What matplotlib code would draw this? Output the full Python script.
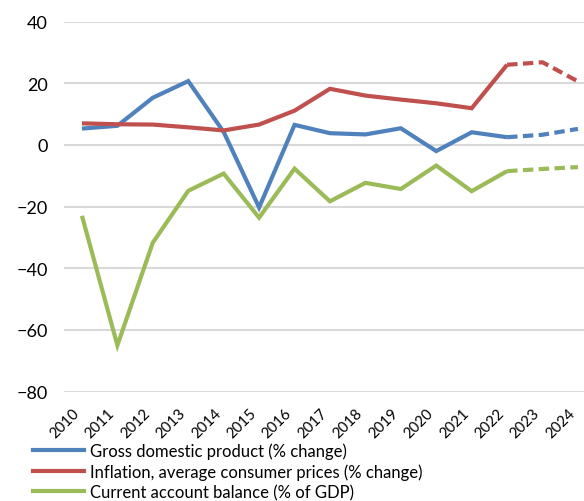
import matplotlib
matplotlib.use("Agg")
import matplotlib.pyplot as plt
from matplotlib.lines import Line2D

years = ["2010", "2011", "2012", "2013", "2014", "2015", "2016", "2017",
         "2018", "2019", "2020", "2021", "2022", "2023", "2024"]
gdp = [5.3, 6.2, 15.3, 20.7, 4.2, -20.3, 6.5, 3.8, 3.4, 5.4, -2.0, 4.1, 2.5, 3.3, 5.2]
inflation = [7.0, 6.7, 6.6, 5.7, 4.7, 6.6, 11.1, 18.2, 16.0, 14.7, 13.5, 11.9, 26.0, 26.8, 20.6]
current_account = [-23.0, -65.0, -31.7, -14.9, -9.3, -23.6, -7.7, -18.3, -12.3, -14.3,
                   -6.7, -15.0, -8.5, -7.8, -7.2]
labels = ["Gross domestic product (% change)",
          "Inflation, average consumer prices (% change)",
          "Current account balance (% of GDP)"]
colors = ["#4F81BD", "#C0504D", "#9BBB59"]
forecast_start = 12  # index of 2022

plt.rcParams['font.family'] = ['Lato', 'DejaVu Sans']

fig = plt.figure(figsize=(5.84, 5.02), dpi=100)
ax = fig.add_axes([0.11, 0.218, 0.91, 0.737])

x = list(range(len(years)))
for series, c in zip([gdp, inflation, current_account], colors):
    ax.plot(x[:forecast_start + 1], series[:forecast_start + 1], color=c, lw=3,
            solid_capstyle='butt', solid_joinstyle='miter')
    ax.plot(x[forecast_start:], series[forecast_start:], color=c, lw=3,
            linestyle=(0, (2.5, 1.3)), dash_capstyle='butt')

ax.set_xlim(-0.5, len(years) - 0.5)
ax.set_ylim(-80, 40)
ax.set_yticks(range(-80, 41, 20))
ax.set_xticks(x)
ax.set_xticklabels(years, rotation=45, ha='right')
ax.yaxis.grid(True, color='#D9D9D9', lw=1.5)
ax.set_axisbelow(True)
for s in ax.spines.values():
    s.set_visible(False)
ax.tick_params(axis='both', length=0, colors='black')
ax.tick_params(axis='y', pad=12, labelsize=13)
ax.tick_params(axis='x', pad=10, labelsize=10.8)

handles = [Line2D([], [], color=c, lw=3) for c in colors]
fig.legend(handles, labels, loc='upper left', bbox_to_anchor=(0.056, 0.116),
           frameon=False, fontsize=12.0, handlelength=3.1, handletextpad=0.35,
           labelspacing=0.24, borderpad=0, borderaxespad=0)

fig.savefig("out.png", dpi=100)
